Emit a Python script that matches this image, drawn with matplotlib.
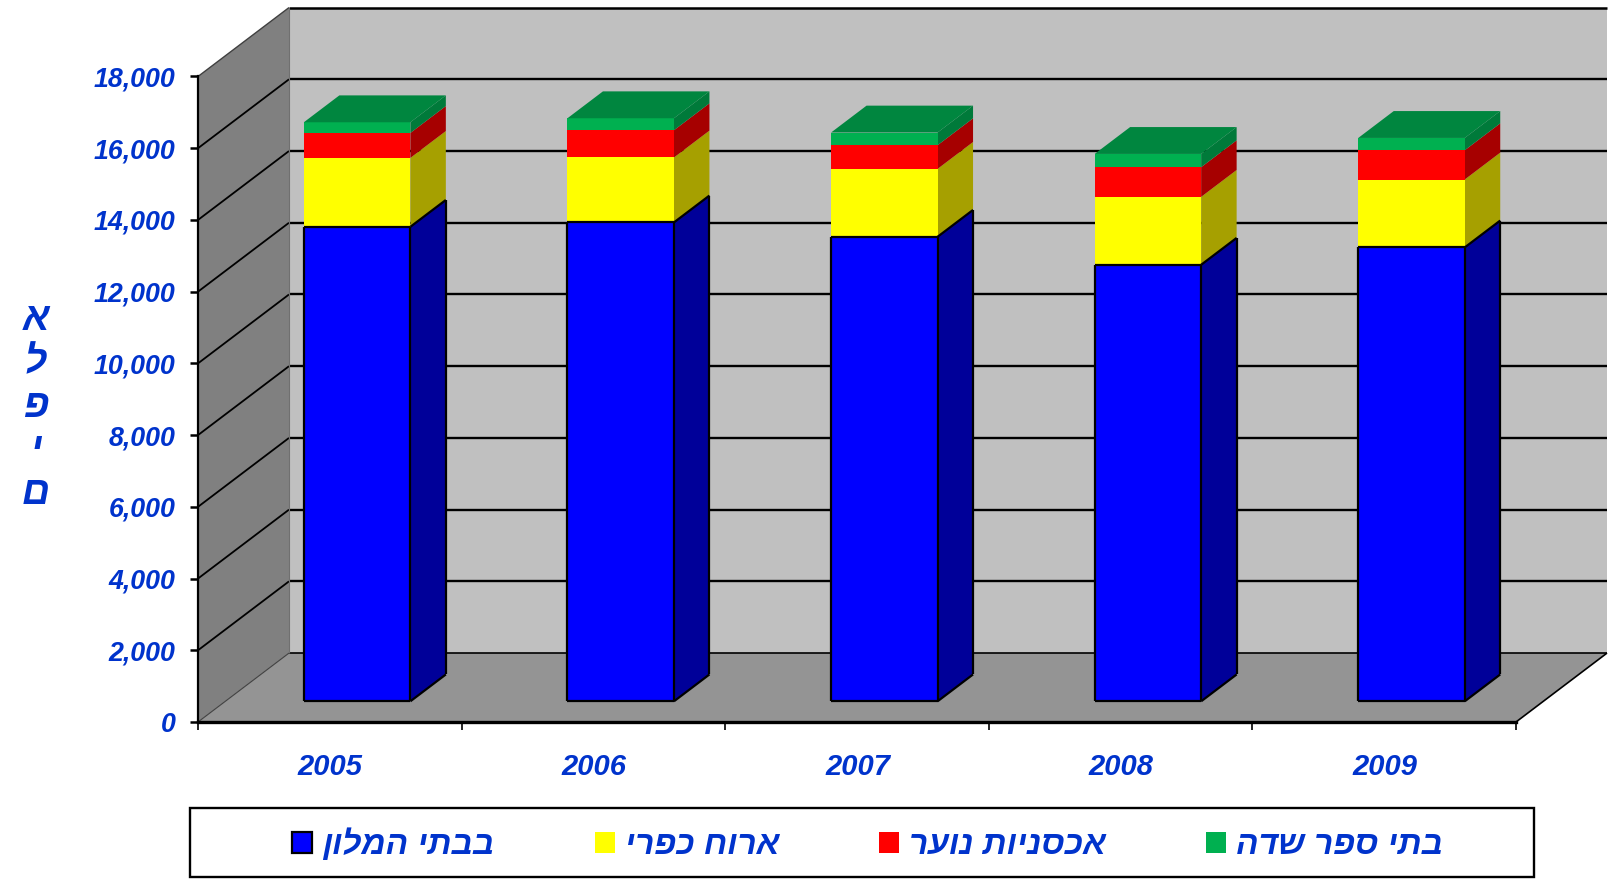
import matplotlib
matplotlib.use("Agg")
import matplotlib.pyplot as plt
from matplotlib.patches import Patch, Polygon, Rectangle

W, H = 1619, 882
TEXT = "#0033CC"
FONT = "Liberation Sans"

YEARS = ["2005", "2006", "2007", "2008", "2009"]
HOTELS = [13231, 13354, 12953, 12173, 12657]
RURAL = [1922, 1811, 1894, 1894, 1894]
HOSTELS = [696, 760, 660, 827, 816]
FIELD = [298, 334, 354, 370, 343]
Y_TICKS = [0, 2000, 4000, 6000, 8000, 10000, 12000, 14000, 16000, 18000]

SERIES_NAMES = ["בבתי המלון", "ארוח כפרי", "אכסניות נוער", "בתי ספר שדה"]
Y_TITLE = "אלפים"

# front, side colours per series
COLORS = [("#0000FF", "#000099"), ("#FFFF00", "#A6A000"), ("#FF0000", "#A60000"), ("#00B050", "#007A3A")]
TOP_COLOR = "#00863F"

# oblique depth of the fake 3D box, in data units
DEPTH_X = 91 / 263.6
DEPTH_V = 69 / 0.0359
BAR_W = 0.404
D0, D1 = 0.30, 0.69


def proj(x, v, d=0.0):
    return x + d * DEPTH_X, v + d * DEPTH_V


def poly(ax, pts, color, z, **kw):
    ax.add_patch(Polygon([proj(*p) for p in pts], closed=True, facecolor=color,
                         edgecolor=kw.pop("edgecolor", "none"), clip_on=False, zorder=z, **kw))


def line(ax, a, b, lw, color="black", z=2):
    xa, ya = proj(*a)
    xb, yb = proj(*b)
    ax.plot([xa, xb], [ya, yb], color=color, lw=lw, clip_on=False, zorder=z, solid_capstyle="butt")


def heb(s):
    # no bidi in matplotlib, so lay the letters out in visual order
    return s[::-1]


fig = plt.figure(figsize=(W / 100, H / 100), dpi=100)
ax = fig.add_axes([198 / W, 1 - 722 / H, 1318 / W, 645.5 / H])
ax.set_xlim(0, 5)
ax.set_ylim(0, 18000)
ax.patch.set_visible(False)

# walls and floor
poly(ax, [(0, 0, 1), (5, 0, 1), (5, 18000, 1), (0, 18000, 1)], "#C0C0C0", 1)
poly(ax, [(0, 0, 0), (0, 0, 1), (0, 18000, 1), (0, 18000, 0)], "#808080", 1)
poly(ax, [(0, 0, 0), (5, 0, 0), (5, 0, 1), (0, 0, 1)], "#949494", 1)

for v in Y_TICKS[1:-1]:
    line(ax, (0, v, 0), (0, v, 1), 1.3)
    line(ax, (0, v, 1), (5, v, 1), 1.7)
line(ax, (0, 0, 1), (5, 0, 1), 1.2)
line(ax, (0, 18000, 1), (5, 18000, 1), 1.8)
line(ax, (0, 18000, 0), (0, 18000, 1), 1.0, "#404040")
line(ax, (0, 0, 0), (0, 0, 1), 0.8, "#404040")
line(ax, (0, 18000, 1), (0, 0, 1), 0.8, "#707070")
line(ax, (5, 0, 0), (5, 0, 1), 1.2)

# bars
stacks = [HOTELS, RURAL, HOSTELS, FIELD]
for i in range(len(YEARS)):
    x0 = i + 0.5 - BAR_W / 2
    x1 = x0 + BAR_W
    base = 0
    z = 5 + i
    for k, vals in enumerate(stacks):
        top = base + vals[i]
        front, side = COLORS[k]
        poly(ax, [(x1, base, D0), (x1, base, D1), (x1, top, D1), (x1, top, D0)], side, z)
        poly(ax, [(x0, base, D0), (x1, base, D0), (x1, top, D0), (x0, top, D0)], front, z)
        if k == 0:
            # only the blue block has an outline
            for a, b in [((x0, base, D0), (x1, base, D0)), ((x1, base, D0), (x1, top, D0)),
                         ((x1, top, D0), (x0, top, D0)), ((x0, top, D0), (x0, base, D0)),
                         ((x1, top, D0), (x1, top, D1)), ((x1, top, D1), (x1, base, D1)),
                         ((x1, base, D1), (x1, base, D0))]:
                line(ax, a, b, 1.6, z=z + 0.5)
        base = top
    poly(ax, [(x0, base, D0), (x1, base, D0), (x1, base, D1), (x0, base, D1)], TOP_COLOR, z)

# axes
for s in ["top", "right"]:
    ax.spines[s].set_visible(False)
ax.spines["left"].set_linewidth(1.6)
ax.spines["bottom"].set_linewidth(2.4)
ax.spines["bottom"].set_zorder(20)
ax.spines["left"].set_zorder(20)

ax.set_yticks(Y_TICKS)
ax.set_yticklabels([f"{v:,}" for v in Y_TICKS], family=FONT, fontsize=19.3, fontweight="bold",
                   fontstyle="italic", color=TEXT)
ax.tick_params(axis="y", length=6, width=1.8, pad=10)
ax.set_xticks(range(6))
ax.set_xticklabels([])
ax.tick_params(axis="x", which="major", length=6, width=1.2)
ax.set_xticks([i + 0.502 for i in range(5)], minor=True)
ax.set_xticklabels(YEARS, minor=True, family=FONT, fontsize=21, fontweight="bold",
                   fontstyle="italic", color=TEXT)
ax.tick_params(axis="x", which="minor", length=0, pad=22)

ax.set_ylabel("\n".join(Y_TITLE), rotation=0, family=FONT, fontsize=28, fontweight="bold",
              fontstyle="italic", color=TEXT, linespacing=1.26, va="center", ha="center")
ax.yaxis.set_label_coords((36 - 198) / 1318, (722 - 407) / 645.5)

# legend: frame drawn apart so the entries can sit off-centre like the original
fig.add_artist(Rectangle((190 / W, 1 - 876.5 / H), 1344 / W, 68.5 / H, transform=fig.transFigure,
                         facecolor="white", edgecolor="black", lw=1.7))
handles = [Patch(facecolor=COLORS[0][0], edgecolor="black", lw=1.6)]
handles += [Patch(facecolor=COLORS[k][0], edgecolor="none") for k in range(1, 4)]
leg = fig.legend(handles, [heb(s) for s in SERIES_NAMES], ncol=4, loc="center",
                 bbox_to_anchor=(867.5 / W, 1 - 845 / H), bbox_transform=fig.transFigure,
                 prop={"family": FONT, "size": 24, "weight": "bold", "style": "italic"},
                 labelcolor=TEXT, frameon=False,
                 handlelength=0.6, handleheight=0.62, handletextpad=0.3,
                 columnspacing=3.0, borderpad=0, borderaxespad=0)

fig.savefig("out.png", dpi=100)
